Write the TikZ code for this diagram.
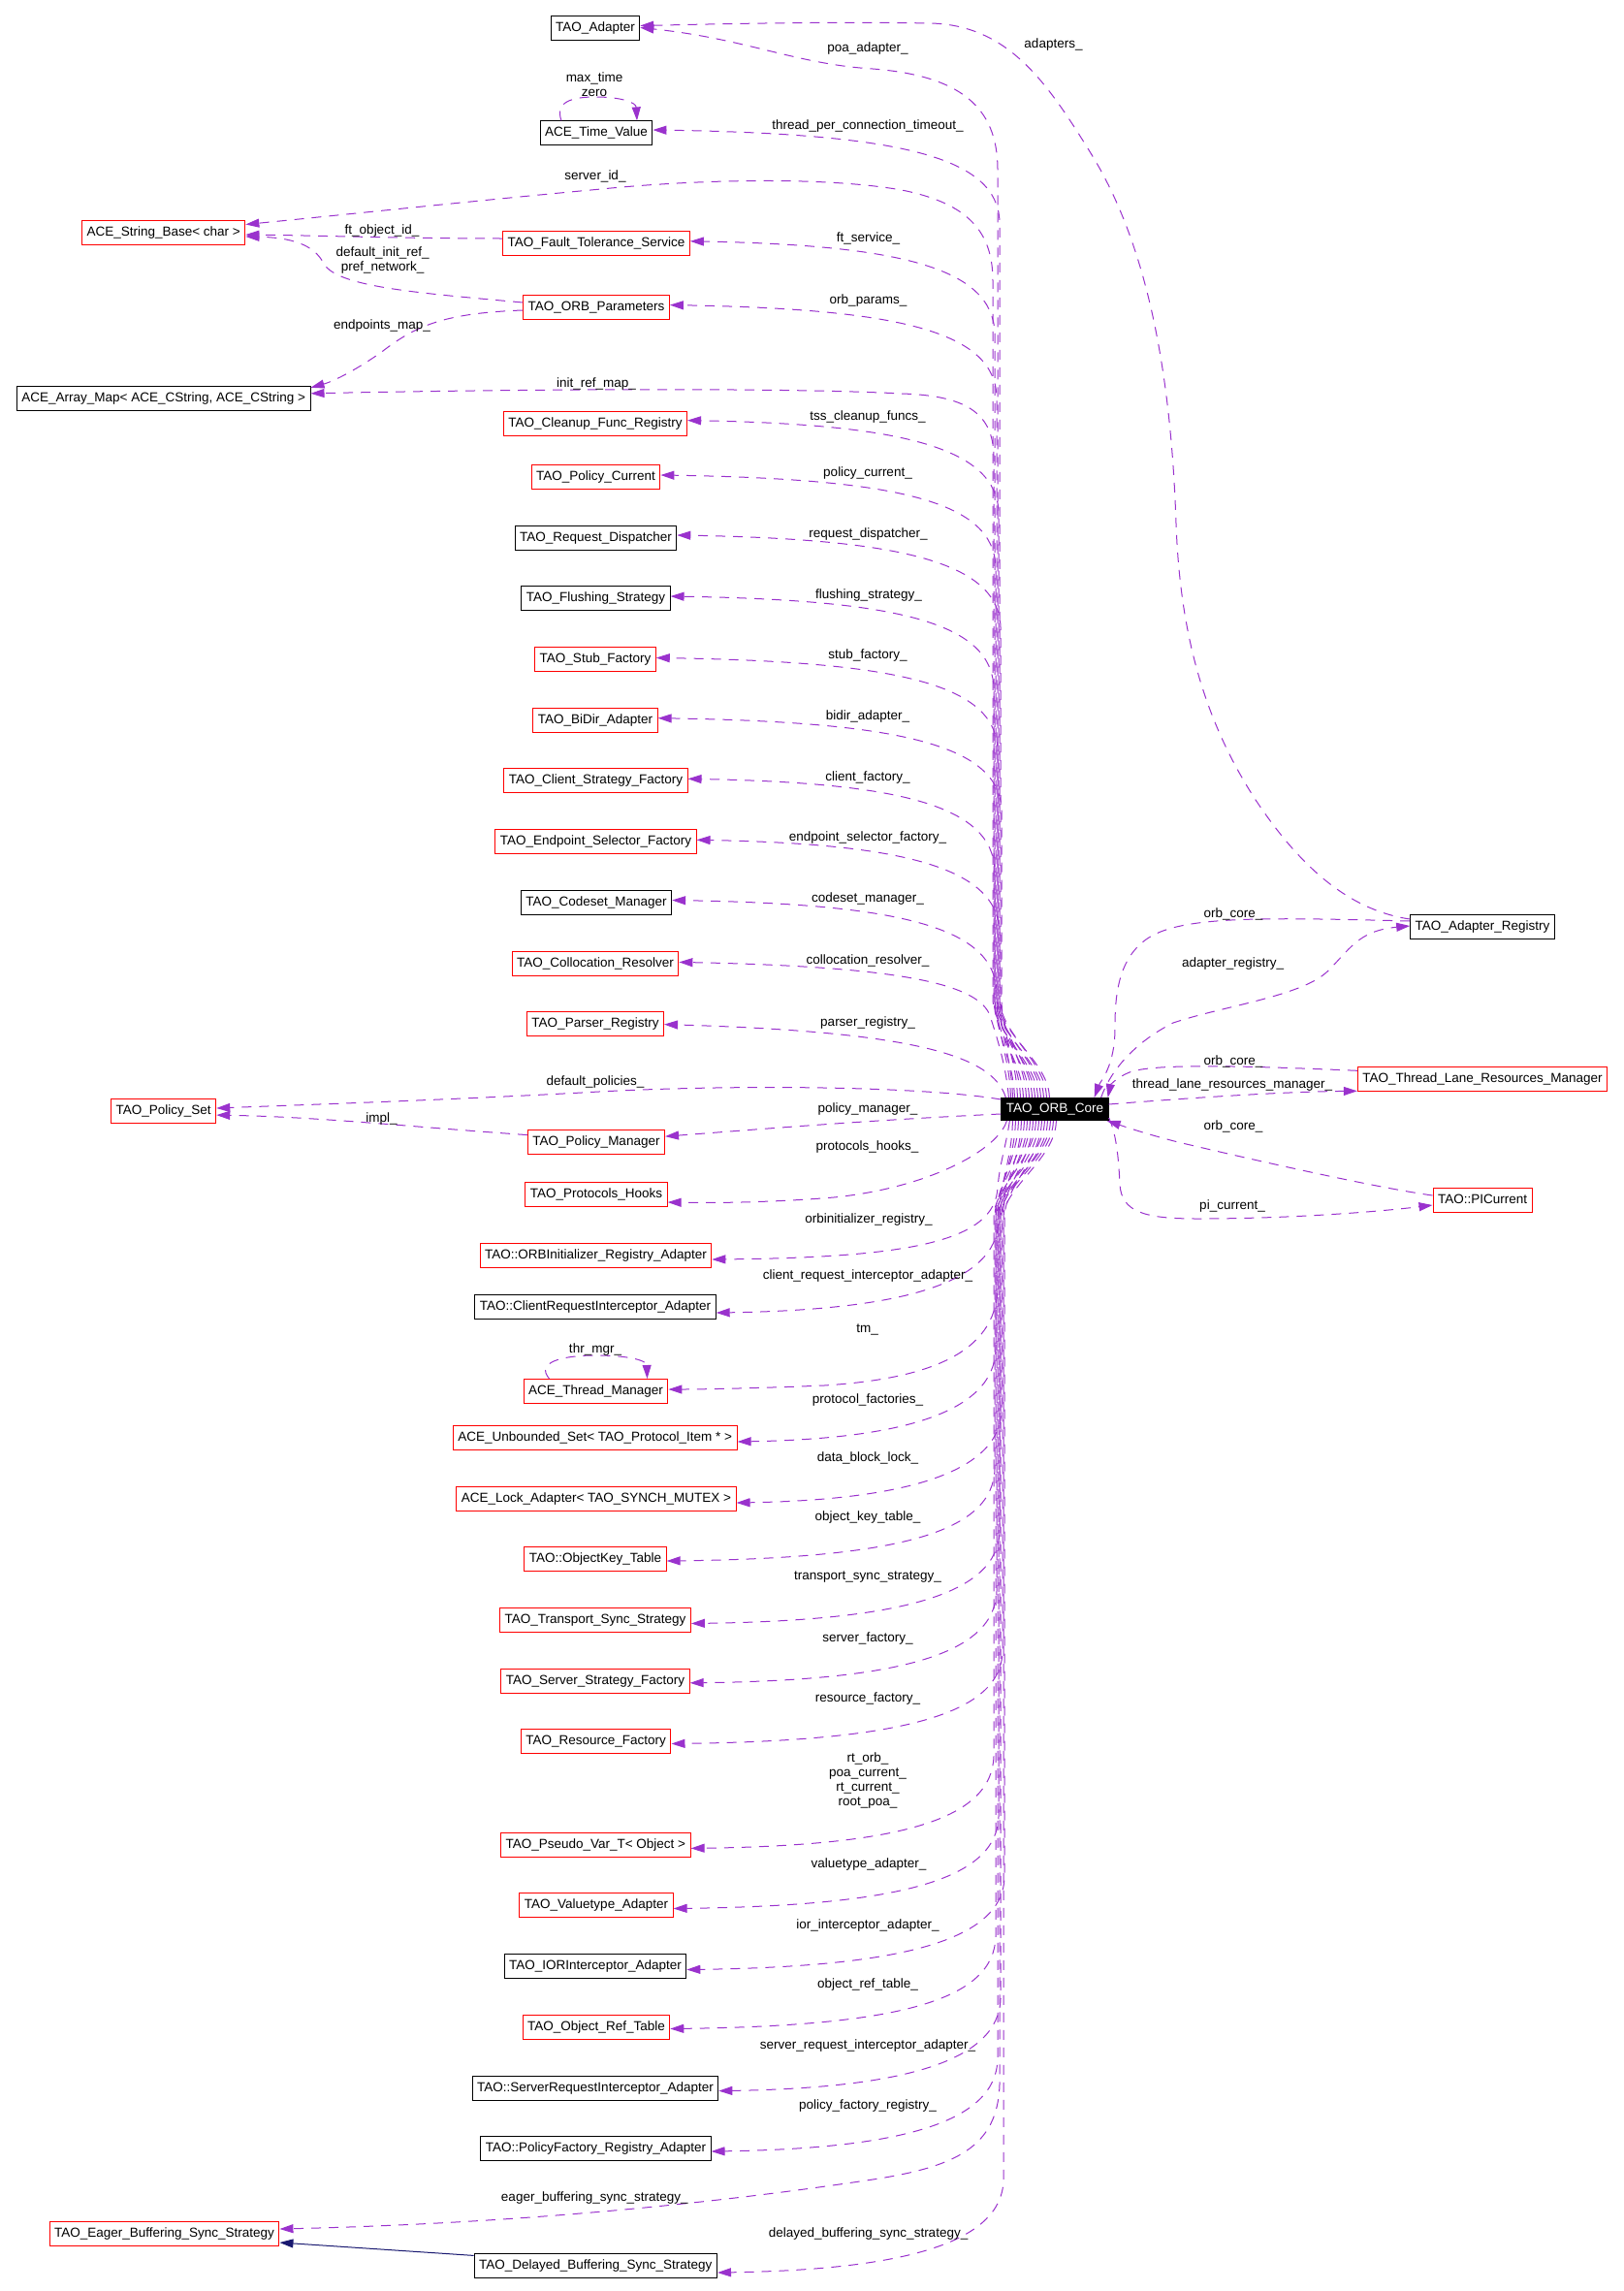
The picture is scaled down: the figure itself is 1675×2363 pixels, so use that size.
\documentclass[tikz,border=0pt]{standalone}
\usepackage{fontspec}
\setmainfont{Liberation Sans}
\usetikzlibrary{arrows.meta}
\definecolor{edgepurple}{HTML}{9A32CD}
\definecolor{inhnavy}{HTML}{191970}
\newcommand\lblfont{\fontsize{13.5}{15}\selectfont}
\tikzset{
 cls/.style={draw=black, line width=1pt, fill=white, inner xsep=5pt, inner ysep=0pt, minimum height=25pt, text height=10pt, text depth=3pt, font=\lblfont},
 redcls/.style={cls, draw=red},
 core/.style={cls, fill=black, text=white, minimum height=23pt},
 mem/.style={draw=edgepurple, line width=1pt, dash pattern=on 10pt off 8pt, -{Triangle[length=14pt,width=9pt]}},
 inh/.style={draw=inhnavy, line width=1pt, -{Triangle[length=14pt,width=9pt]}},
 elab/.style={inner sep=0pt, font=\lblfont, align=center}
}
% #1 target, #2 arrow y, #3 dx at ORB top, #4 spine x, #5 yshift at target
\newcommand\upedge[5]{%
 \draw[mem] ([xshift=#3pt]orb.north west) .. controls (1032+#3,1095) and (#4,1065) .. (#4,1030) -- (#4,#2+95) .. controls (#4-2,#2+28) and (930,#2+4) .. ([yshift=#5pt]#1.east);}
\newcommand\downedge[5]{%
 \draw[mem] ([xshift=#3pt]orb.south west) .. controls (1032+#3,1195) and (#4,1225) .. (#4,1255) -- (#4,#2-95) .. controls (#4-2,#2-30) and (930,#2-3) .. ([yshift=#5pt]#1.east);}
\begin{document}
\begin{tikzpicture}[x=1pt,y=-1pt]
\useasboundingbox (0,0) rectangle (1675,2363);

% ---------- nodes ----------
\node[cls] (ad) at (614,29.5) {TAO\_Adapter};
\node[cls] (tv) at (615,137.4) {ACE\_Time\_Value};
\node[redcls] (asb) at (168.7,240) {ACE\_String\_Base< char >};
\node[redcls] (fts) at (615,251) {TAO\_Fault\_Tolerance\_Service};
\node[redcls] (op) at (615,317) {TAO\_ORB\_Parameters};
\node[cls] (am) at (168.7,410.8) {ACE\_Array\_Map< ACE\_CString, ACE\_CString >};
\node[redcls] (cf) at (614,437.4) {TAO\_Cleanup\_Func\_Registry};
\node[redcls] (pcur) at (614.5,492) {TAO\_Policy\_Current};
\node[cls] (rd) at (614.5,554.7) {TAO\_Request\_Dispatcher};
\node[cls] (fs) at (614.5,617.3) {TAO\_Flushing\_Strategy};
\node[redcls] (sf) at (614,680) {TAO\_Stub\_Factory};
\node[redcls] (bd) at (614,742.7) {TAO\_BiDir\_Adapter};
\node[redcls] (csf) at (614.5,805.4) {TAO\_Client\_Strategy\_Factory};
\node[redcls] (esf) at (614.5,868) {TAO\_Endpoint\_Selector\_Factory};
\node[cls] (cm) at (615,930.8) {TAO\_Codeset\_Manager};
\node[redcls] (cr) at (614,993.7) {TAO\_Collocation\_Resolver};
\node[redcls] (pr) at (614,1056) {TAO\_Parser\_Registry};
\node[redcls] (ps) at (168.7,1145.6) {TAO\_Policy\_Set};
\node[redcls] (pm) at (615,1177.6) {TAO\_Policy\_Manager};
\node[redcls] (ph) at (615,1232) {TAO\_Protocols\_Hooks};
\node[redcls] (ori) at (614.5,1295) {TAO::ORBInitializer\_Registry\_Adapter};
\node[cls] (cri) at (614,1348) {TAO::ClientRequestInterceptor\_Adapter};
\node[redcls] (tmg) at (614.5,1435) {ACE\_Thread\_Manager};
\node[redcls] (us) at (613.8,1483) {ACE\_Unbounded\_Set< TAO\_Protocol\_Item * >};
\node[redcls] (la) at (615,1545.5) {ACE\_Lock\_Adapter< TAO\_SYNCH\_MUTEX >};
\node[redcls] (ok) at (614,1608) {TAO::ObjectKey\_Table};
\node[redcls] (ts) at (614,1671) {TAO\_Transport\_Sync\_Strategy};
\node[redcls] (ss) at (614,1733.8) {TAO\_Server\_Strategy\_Factory};
\node[redcls] (rf) at (614.7,1796) {TAO\_Resource\_Factory};
\node[redcls] (pv) at (614.3,1903) {TAO\_Pseudo\_Var\_T< Object >};
\node[redcls] (va) at (615,1965.4) {TAO\_Valuetype\_Adapter};
\node[cls] (ior) at (614,2027.7) {TAO\_IORInterceptor\_Adapter};
\node[redcls] (ort) at (615,2091) {TAO\_Object\_Ref\_Table};
\node[cls] (sri) at (614,2154) {TAO::ServerRequestInterceptor\_Adapter};
\node[cls] (pfr) at (614.5,2216) {TAO::PolicyFactory\_Registry\_Adapter};
\node[redcls] (eg) at (169.5,2304) {TAO\_Eager\_Buffering\_Sync\_Strategy};
\node[cls] (dl) at (614.3,2337.4) {TAO\_Delayed\_Buffering\_Sync\_Strategy};
\node[core] (orb) at (1088,1144) {TAO\_ORB\_Core};
\node[cls] (ar) at (1529,956) {TAO\_Adapter\_Registry};
\node[redcls] (tl) at (1529,1113.3) {TAO\_Thread\_Lane\_Resources\_Manager};
\node[redcls] (pc) at (1529,1237.5) {TAO::PICurrent};

% ---------- upper members ----------
\draw[mem] ([xshift=50pt]orb.north west) .. controls (1082,1095) and (1029,1065) .. (1029,1030) -- (1029,175) .. controls (1029,110) and (990,78) .. (900,71) .. controls (820,66) and (770,40) .. ([yshift=1pt]ad.east);
\upedge{tv}{134}{47}{1031}{3.4}
\draw[mem] ([xshift=38pt]orb.north west) .. controls (1070,1095) and (1024,1065) .. (1024,1030) -- (1024,290) .. controls (1024,240) and (1000,210) .. (930,196) .. controls (850,182) and (720,185) .. (620,195) .. controls (480,208) and (350,222) .. ([yshift=8.5pt]asb.east);
\upedge{fts}{248.8}{44}{1026}{2.2}
\upedge{op}{314.6}{41}{1028}{2.4}
\draw[mem] ([xshift=35pt]orb.north west) .. controls (1067,1095) and (1025,1065) .. (1025,1030) -- (1025,470) .. controls (1024,425) and (995,408) .. (930,406) .. controls (800,399) and (500,402) .. ([yshift=5pt]am.east);
\upedge{cf}{433.6}{32}{1030}{3.8}
\upedge{pcur}{490}{29}{1027}{2}
\upedge{rd}{552}{26}{1032}{2.7}
\upedge{fs}{615}{23}{1025}{2.3}
\upedge{sf}{678.5}{20}{1029}{1.5}
\upedge{bd}{740.7}{17}{1033}{2}
\upedge{csf}{803.3}{14}{1026}{2.1}
\upedge{esf}{866.3}{12}{1031}{1.7}
\upedge{cm}{928.5}{10}{1028}{2.3}
\draw[mem] ([xshift=8pt]orb.north west) .. controls (1038,1100) and (1027,1065) .. (1020,1045) .. controls (1005,1015) and (930,997) .. ([yshift=1.3pt]cr.east);
\draw[mem] ([xshift=5pt]orb.north west) .. controls (1024,1088) and (940,1064) .. ([yshift=-0.6pt]pr.east);

% ---------- side members ----------
\draw[mem] ([yshift=10pt]orb.west) .. controls (950,1120) and (750,1118) .. (600,1127) .. controls (450,1135) and (300,1140) .. ([yshift=2.6pt]ps.east);
\draw[mem] ([yshift=-5pt]orb.west) .. controls (900,1155) and (780,1165) .. ([yshift=5.5pt]pm.east);
\draw[mem] ([yshift=7pt]pm.west) .. controls (420,1162) and (330,1152) .. ([yshift=-4.5pt]ps.east);
\draw[mem] ([yshift=5pt]fts.west) .. controls (420,246) and (330,243) .. ([yshift=-2pt]asb.east);
\draw[mem] ([yshift=5pt]op.west) .. controls (430,302) and (348,296) .. (334,272) .. controls (324,252) and (300,245) .. ([yshift=-4pt]asb.east);
\draw[mem] ([yshift=-3pt]op.west) .. controls (460,323) and (430,335) .. (395,362) .. controls (370,380) and (345,393) .. ([yshift=11pt]am.east);

% self loops
\draw[mem] ([xshift=-36pt]tv.north) .. controls (572,105) and (590,100) .. (614,100) .. controls (642,100) and (656,106) .. ([xshift=42pt]tv.north);
\draw[mem] ([xshift=-48pt]tmg.north) .. controls (552,1405) and (580,1398) .. (614,1398) .. controls (648,1398) and (667,1403) .. ([xshift=53pt]tmg.north);

% ---------- lower members ----------
\draw[mem] ([xshift=6pt]orb.south west) .. controls (1030,1185) and (960,1225) .. (860,1235) .. controls (800,1240) and (740,1241) .. ([yshift=-8pt]ph.east);
\draw[mem] ([xshift=9pt]orb.south west) .. controls (1038,1180) and (1031,1200) .. (1029,1225) .. controls (1026,1280) and (940,1297) .. ([yshift=-4pt]ori.east);
\downedge{cri}{1354}{12}{1030}{-6}
\draw[mem] ([xshift=15pt]orb.south west) .. controls (1047,1195) and (1029,1225) .. (1029,1255) -- (1029,1330) .. controls (1026,1395) and (960,1422) .. (850,1429) .. controls (780,1432) and (720,1433) .. ([yshift=2pt]tmg.east);
\downedge{us}{1487}{18}{1027}{-4}
\downedge{la}{1550}{21}{1033}{-4.5}
\downedge{ok}{1610}{24}{1026}{-2}
\downedge{ts}{1674.5}{27}{1031}{-3.5}
\downedge{ss}{1736}{30}{1028}{-2}
\downedge{rf}{1798.5}{33}{1034}{-2.5}
\downedge{pv}{1906.4}{36}{1025}{-3.4}
\downedge{va}{1968.5}{39}{1030}{-3.1}
\downedge{ior}{2031.5}{42}{1036}{-3.8}
\downedge{ort}{2092.5}{45}{1027}{-1.5}
\downedge{sri}{2156.6}{48}{1032}{-2.6}
\downedge{pfr}{2219}{51}{1029}{-3}
\draw[mem] ([xshift=54pt]orb.south west) .. controls (1086,1195) and (1031,1225) .. (1031,1255) -- (1031,2150) .. controls (1029,2215) and (985,2235) .. (900,2248) .. controls (700,2278) and (500,2294) .. ([yshift=5pt]eg.east);
\downedge{dl}{2344}{57}{1035}{-6.6}

% inheritance
\draw[inh] ([yshift=11pt]dl.west) -- ([yshift=-9pt]eg.east);

% ---------- right side ----------
\draw[mem] ([yshift=8pt]ar.west) .. controls (1385,938) and (1335,885) .. (1295,825) .. controls (1240,740) and (1217,650) .. (1213,540) .. controls (1208,390) and (1185,255) .. (1125,158) .. controls (1080,85) and (1040,26) .. (960,24) .. controls (850,22) and (730,25) .. ([yshift=3pt]ad.east);
\draw[mem] ([yshift=6pt]ar.west) .. controls (1300,946) and (1220,945) .. (1185,967) .. controls (1152,988) and (1150,1030) .. (1150,1060) .. controls (1150,1100) and (1135,1115) .. ([xshift=-15pt]orb.north east);
\draw[mem] ([xshift=-8pt]orb.north east) .. controls (1145,1105) and (1170,1075) .. (1210,1055) .. controls (1260,1038) and (1340,1028) .. (1368,1003) .. controls (1392,980) and (1400,960) .. ([yshift=1pt]ar.west);
\draw[mem] ([yshift=9pt]tl.west) .. controls (1300,1100) and (1190,1096) .. (1165,1106) .. controls (1150,1112) and (1145,1120) .. ([xshift=-1pt]orb.north east);
\draw[mem] ([yshift=5pt]orb.east) .. controls (1220,1133) and (1320,1126) .. ([yshift=-12pt]tl.west);
\draw[mem] ([yshift=4.5pt]pc.west) .. controls (1420,1225) and (1300,1198) .. (1215,1178) .. controls (1180,1169) and (1160,1162) .. ([xshift=-2pt]orb.south east);
\draw[mem] ([yshift=3pt]orb.south east) .. controls (1152,1170) and (1154,1200) .. (1155,1222) .. controls (1157,1250) and (1180,1257) .. (1235,1257) .. controls (1330,1257) and (1420,1250) .. ([yshift=-5.5pt]pc.west);

% ---------- labels ----------
\node[elab] (lpoa) at (895,50) {poa\_adapter\_};
\node[elab] (ltvself) at (613,87) {max\_time\\zero};
\node[elab] (ltpct) at (895,130) {thread\_per\_connection\_timeout\_};
\node[elab] (lsid) at (614,182) {server\_id\_};
\node[elab] (lfoi) at (394,238.4) {ft\_object\_id\_};
\node[elab] (lfts) at (895.5,245.7) {ft\_service\_};
\node[elab] (ldir) at (394.6,268.6) {default\_init\_ref\_\\pref\_network\_};
\node[elab] (lop) at (895.5,310) {orb\_params\_};
\node[elab] (lem) at (394,336) {endpoints\_map\_};
\node[elab] (lirm) at (615,396) {init\_ref\_map\_};
\node[elab] (ltss) at (895,430) {tss\_cleanup\_funcs\_};
\node[elab] (lpc) at (895,488) {policy\_current\_};
\node[elab] (lrd) at (895.5,551) {request\_dispatcher\_};
\node[elab] (lfs) at (896,614) {flushing\_strategy\_};
\node[elab] (lsf) at (895,675.6) {stub\_factory\_};
\node[elab] (lbd) at (895,738.6) {bidir\_adapter\_};
\node[elab] (lcf) at (895,801.7) {client\_factory\_};
\node[elab] (lesf) at (895,863.8) {endpoint\_selector\_factory\_};
\node[elab] (lcm) at (895,926.9) {codeset\_manager\_};
\node[elab] (lcr) at (895,990.7) {collocation\_resolver\_};
\node[elab] (lpr) at (895,1055) {parser\_registry\_};
\node[elab] (ldp) at (614,1115.5) {default\_policies\_};
\node[elab] (lpm) at (895,1144) {policy\_manager\_};
\node[elab] (limpl) at (393.6,1154) {impl\_};
\node[elab] (lph) at (894.5,1182.7) {protocols\_hooks\_};
\node[elab] (lori) at (896,1257.8) {orbinitializer\_registry\_};
\node[elab] (lcri) at (895,1315.8) {client\_request\_interceptor\_adapter\_};
\node[elab] (ltm) at (894.5,1371.8) {tm\_};
\node[elab] (lthr) at (614,1391.7) {thr\_mgr\_};
\node[elab] (lpf) at (895,1443.5) {protocol\_factories\_};
\node[elab] (ldbl) at (895,1503.6) {data\_block\_lock\_};
\node[elab] (lokt) at (895,1565.4) {object\_key\_table\_};
\node[elab] (ltsy) at (895,1626.8) {transport\_sync\_strategy\_};
\node[elab] (lsrv) at (895,1689.8) {server\_factory\_};
\node[elab] (lrf) at (895,1752) {resource\_factory\_};
\node[elab] (lrt) at (895,1836.7) {rt\_orb\_\\poa\_current\_\\rt\_current\_\\root\_poa\_};
\node[elab] (lva) at (896,1922.8) {valuetype\_adapter\_};
\node[elab] (lior) at (895,1986) {ior\_interceptor\_adapter\_};
\node[elab] (lort) at (895,2047) {object\_ref\_table\_};
\node[elab] (lsri) at (895,2109.7) {server\_request\_interceptor\_adapter\_};
\node[elab] (lpfr) at (895,2172) {policy\_factory\_registry\_};
\node[elab] (leb) at (613.3,2266.8) {eager\_buffering\_sync\_strategy\_};
\node[elab] (ldb) at (895.6,2304) {delayed\_buffering\_sync\_strategy\_};
\node[elab] (lad) at (1086.5,46) {adapters\_};
\node[elab] (loc1) at (1272,943) {orb\_core\_};
\node[elab] (lar) at (1271.6,994.3) {adapter\_registry\_};
\node[elab] (loc2) at (1272,1095) {orb\_core\_};
\node[elab] (ltlrm) at (1271,1119) {thread\_lane\_resources\_manager\_};
\node[elab] (loc3) at (1272,1162.3) {orb\_core\_};
\node[elab] (lpi) at (1271,1244.3) {pi\_current\_};
\end{tikzpicture}
\end{document}
